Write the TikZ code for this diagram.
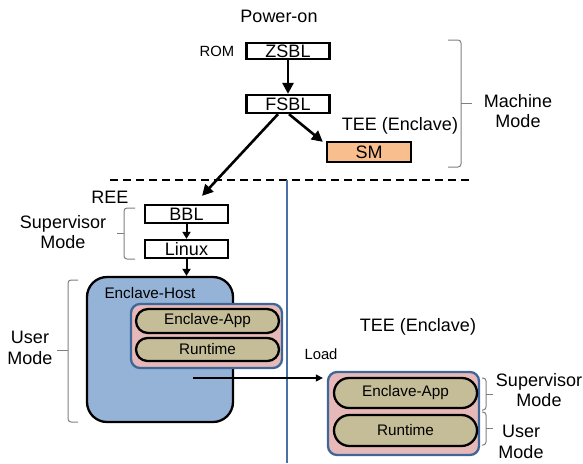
\documentclass[tikz,border=0pt]{standalone}
\usepackage{fontspec}
\setmainfont{Liberation Sans}
\usetikzlibrary{arrows.meta}
\definecolor{hostblue}{HTML}{95B3D7}
\definecolor{encpink}{HTML}{E6B9B8}
\definecolor{khaki}{HTML}{C4BD97}
\definecolor{smorange}{HTML}{F9BE8E}
\definecolor{frameblue}{HTML}{3E6699}
\definecolor{linkblue}{HTML}{4A70A6}
\definecolor{bracegray}{HTML}{7F7F7F}
\begin{document}
\begin{tikzpicture}[x=1pt,y=-1pt,
  big/.style={font=\fontsize{18}{20.5}\selectfont},
  mid/.style={font=\fontsize{15.3}{18}\selectfont},
  small/.style={font=\fontsize{14.8}{17}\selectfont},
  stagebox/.style={draw, line width=2.3pt, inner sep=0pt, big,
                   minimum width=83pt, minimum height=18pt},
  hostbox/.style={draw, line width=2.3pt, fill=hostblue, rounded corners=20pt,
                  minimum width=146pt, minimum height=145pt},
  encbox/.style={draw=frameblue, line width=2.3pt, fill=encpink, rounded corners=9pt},
  pill/.style={draw, line width=2.3pt, fill=khaki, mid, inner sep=0pt,
               minimum width=143pt},
  bigarrow/.style={line width=2.6pt, -{Triangle[length=11pt,width=11pt]}},
  smallarrow/.style={line width=2pt, -{Triangle[length=7pt,width=8pt]}},
  loadarrow/.style={line width=1.3pt, -{Triangle[length=7pt,width=7pt]}, shorten >=4pt},
  bracepath/.style={draw=bracegray, line width=1pt, rounded corners=3pt},
  label2/.style={big, align=center, inner sep=0pt}
]
\useasboundingbox (0,0) rectangle (583,463);

% ---- boot chain ----
\node[big] (poweron) at (279,16) {Power-on};
\node[small] (rom) at (217,51) {ROM};
\node[stagebox, minimum height=16pt] (zsbl) at (288,51) {ZSBL};
\node[stagebox] (fsbl) at (288,104) {FSBL};
\node[big] (teetop) at (400,126) {TEE (Enclave)};
\node[stagebox, fill=smorange, minimum width=84pt, minimum height=20pt] (sm) at (369,152) {SM};

\draw[bigarrow] (zsbl.south) -- (fsbl.north);
\draw[bigarrow] ([xshift=1pt]fsbl.south) -- ([xshift=-3pt,yshift=-1pt]sm.north west);

% ---- privilege boundaries ----
\coordinate (dl) at (110,180);
\coordinate (dr) at (470,180);
\coordinate (vt) at (287,180);
\coordinate (vb) at (287,463);
\draw[line width=2pt, dash pattern=on 8pt off 5pt] (dl) -- (dr);
\draw[linkblue, line width=1.8pt] (vt) -- (vb);

% ---- REE side ----
\node[big] (ree) at (110,197) {REE};
\node[stagebox] (bbl) at (186.5,214) {BBL};
\node[stagebox] (linux) at (186.5,249) {Linux};
\draw[bigarrow] ([xshift=-10pt]fsbl.south) -- ([xshift=15.5pt,yshift=8pt]bbl.north);
\draw[smallarrow] (bbl.south) -- (linux.north);

\node[hostbox] (host) at (160,349.5) {};
\node[mid] (hostlabel) at (150,293) {Enclave-Host};
\draw[smallarrow] (linux.south) -- (linux.south |- host.north);

\node[encbox, minimum width=151pt, minimum height=64pt] (lpink) at (206.5,336) {};
\node[pill, minimum height=24pt, rounded corners=12pt] (lapp) at (207.5,321) {Enclave-App};
\node[pill, minimum height=23pt, rounded corners=11.5pt] (lrun) at (207.5,349.5) {Runtime};

% ---- TEE side ----
\node[big] (teebot) at (418,327) {TEE (Enclave)};
\node[small] (load) at (321,354) {Load};
\node[encbox, minimum width=151pt, minimum height=83pt] (rpink) at (403.5,413.5) {};
\node[pill, minimum height=30pt, rounded corners=15pt] (rapp) at (405.5,393) {Enclave-App};
\node[pill, minimum height=31pt, rounded corners=15.5pt] (rrun) at (405.5,430.5) {Runtime};

\coordinate (ldstart) at (193,378);
\draw[loadarrow] (ldstart) -- (ldstart -| rpink.west);

% ---- mode braces ----
% machine mode (opens left, tip right)
\draw[bracepath] (448,40) -- (461,40) -- (461,103) -- (461,167) -- (448,167);
\draw[bracepath] (461,103) -- (472,103);
\node[label2] (machine) at (518,111) {Machine\\Mode};

% supervisor mode, REE (tip left)
\draw[bracepath] (135,208) -- (124,208) -- (124,233) -- (124,259) -- (135,259);
\draw[bracepath] (124,233) -- (117,233);
\node[label2] (lsup) at (63,232) {Supervisor\\Mode};

% user mode, REE (tip left)
\draw[bracepath] (78,280) -- (68,280) -- (68,350) -- (68,422) -- (78,422);
\draw[bracepath] (68,350) -- (57,350);
\node[label2] (luser) at (30,348) {User\\Mode};

% supervisor / user mode inside the enclave (tip right)
\draw[bracepath] (482,378) -- (486,378) -- (486,394) -- (486,410) -- (482,410);
\draw[bracepath] (486,394) -- (493,394);
\node[label2] (rsup) at (539,390) {Supervisor\\Mode};
\draw[bracepath] (482,412) -- (486,412) -- (486,428) -- (486,445) -- (482,445);
\draw[bracepath] (486,428) -- (493,428);
\node[label2] (ruser) at (521,442) {User\\Mode};
\end{tikzpicture}
\end{document}
